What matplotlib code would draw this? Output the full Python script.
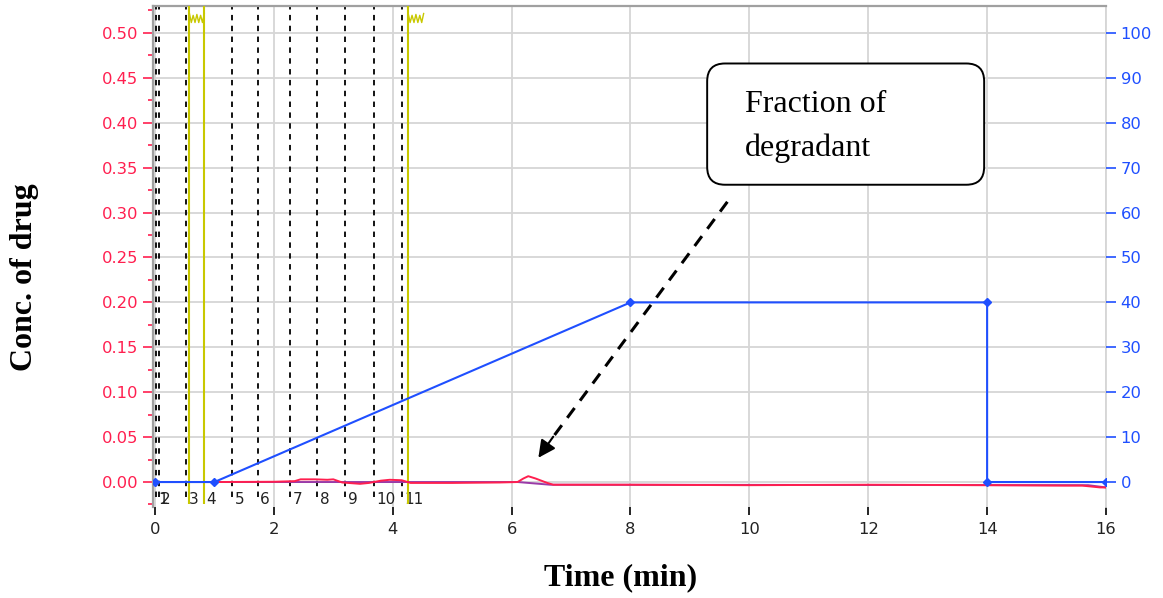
import matplotlib
matplotlib.use('Agg')
import matplotlib.pyplot as plt
import matplotlib.patches as mpatches
import matplotlib.transforms as mtransforms
import numpy as np

# detector trace, conc. of drug vs time (min)
trace_time = [0, 1.0, 2.0, 2.35, 2.45, 2.7, 2.9, 3.0, 3.15, 3.45, 3.6, 3.8, 3.95, 4.15, 4.3,
              5.0, 5.8, 6.1, 6.2, 6.28, 6.4, 6.5, 6.6, 6.7, 8, 10, 12, 14, 15.3, 15.6, 15.9, 16]
trace_conc = [0, 0, 0.0003, 0.001, 0.003, 0.003, 0.0025, 0.003, -0.0005, -0.002, -0.001, 0.0015,
              0.0025, 0.002, -0.001, -0.001, -0.0005, 0.0, 0.004, 0.0065, 0.004, 0.0015, -0.001,
              -0.003, -0.003, -0.0035, -0.003, -0.0035, -0.004, -0.004, -0.006, -0.006]

# integration baseline
base_time = [0, 6.1, 6.65, 15.7, 16]
base_conc = [0, 0, -0.003, -0.0035, -0.006]

# gradient program, %B on the right axis
grad_time = [0, 1, 8, 14, 14, 16]
grad_pct = [0, 0, 40, 40, 0, 0]

# fraction collector marks and their numbers
frac_time = [0.02, 0.06, 0.52, 0.82, 1.30, 1.73, 2.27, 2.73, 3.20, 3.68, 4.15]
frac_labels = ['1', '2', '3', '4', '5', '6', '7', '8', '9', '10', '11']

# integration events
event_time = [0.58, 0.83, 4.26]

RED = '#ff1f4f'
BLUE = '#1f4fff'
YELLOW = '#c8c800'
GRID = '#d6d6d6'

fig = plt.figure(figsize=(11.63, 5.98), dpi=100)
ax = fig.add_axes([152.6 / 1163, 91 / 598, (1106 - 152.6) / 1163, 501 / 598])
ax.set_xlim(-0.04, 16.0)
ylo, yhi = -0.0278, 0.530
ax.set_ylim(ylo, yhi)

ax.set_xticks(np.arange(0, 17, 2))
ax.set_yticks(np.arange(0, 0.51, 0.05))
ax.set_yticks(np.arange(-0.025, 0.53, 0.05), minor=True)
ax.set_yticklabels(['%.2f' % v for v in np.arange(0, 0.51, 0.05)])
ax.grid(True, which='major', color=GRID, lw=1.3)
ax.set_axisbelow(True)

ax.tick_params(axis='y', which='major', colors=RED, length=7, width=1.2, pad=3.5, labelsize=11.8)
ax.tick_params(axis='y', which='minor', colors=RED, length=3.5, width=1.2)
ax.tick_params(axis='x', colors='black', length=6, width=1.2, pad=5, labelsize=11.8,
               labelcolor='#222222')

ax.spines['bottom'].set_visible(False)
ax.spines['right'].set_color(GRID)
ax.spines['right'].set_linewidth(1.3)
ax.spines['left'].set_color('#a0a0a0')
ax.spines['left'].set_linewidth(1.6)
ax.spines['top'].set_color('#a0a0a0')
ax.spines['top'].set_linewidth(1.6)

# fraction marks
ax.vlines(frac_time, -0.017, yhi, colors='black', linestyles=(0, (3, 3)), lw=1.3, zorder=2)
trans = mtransforms.offset_copy(ax.transData, fig=fig, x=2.5, y=0, units='dots')
for t, lab in zip(frac_time, frac_labels):
    ax.text(t, -0.020, lab, transform=trans, fontsize=11, color='#222222',
            ha='left', va='center', zorder=3)

# integration events with their wavy flags at the top
ax.vlines(event_time, -0.024, yhi, colors=YELLOW, lw=1.5, zorder=3)
flag = [0, 1, 0.2, 1, 0.1, 1, 0.2, 1, 0]
blend = mtransforms.blended_transform_factory(ax.transData, ax.transAxes)
xa = np.linspace(event_time[0], event_time[1], len(flag))
ax.plot(xa, 0.985 - 0.018 * np.array(flag), color=YELLOW, lw=1.0, transform=blend, zorder=3)
xb = np.linspace(event_time[2], event_time[2] + 0.26, len(flag))
ax.plot(xb, 0.985 - 0.018 * np.array(flag), color=YELLOW, lw=1.0, transform=blend, zorder=3)

# baseline and trace
ax.plot(base_time, base_conc, color='#9a3aa8', lw=1.4, zorder=4)
ax.plot(trace_time, trace_conc, color=RED, lw=1.4, zorder=5)

# gradient on secondary axis
ax2 = ax.twinx()
ax2.set_ylim(ylo * 200, yhi * 200)
ax2.set_yticks(np.arange(0, 101, 10))
ax2.tick_params(axis='y', colors=BLUE, length=7, width=1.2, pad=3.5, labelsize=11.8)
for side in ['top', 'bottom', 'left', 'right']:
    ax2.spines[side].set_visible(False)
ax2.plot(grad_time, grad_pct, color=BLUE, lw=1.5, marker='D', ms=4, zorder=6)

# callout box
box = mpatches.FancyBboxPatch((9.29, 0.331), 4.66, 0.135,
                              boxstyle='round,pad=0,rounding_size=0.30',
                              mutation_aspect=0.0663, transform=ax.transData,
                              facecolor='white', edgecolor='black', lw=1.4, zorder=10,
                              clip_on=False)
ax2.add_patch(box)
ax2.text(9.93, 0.42, 'Fraction of', transform=ax.transData, fontsize=23,
         family='Liberation Serif', ha='left', va='center', zorder=11)
ax2.text(9.93, 0.372, 'degradant', transform=ax.transData, fontsize=23,
         family='Liberation Serif', ha='left', va='center', zorder=11)

# dashed pointer with a solid head
ax2.plot([9.63, 6.66], [0.312, 0.0468], transform=ax.transData, color='black',
         lw=2.2, linestyle=(0, (4, 3)), zorder=11)
ax2.annotate('', xy=(6.45, 0.027), xytext=(6.70, 0.0505),
             xycoords=ax.transData, textcoords=ax.transData,
             arrowprops=dict(arrowstyle='-|>', lw=1.5, color='black',
                             mutation_scale=26, shrinkA=0, shrinkB=0),
             zorder=11)

fig.text(25 / 1163, 1 - 277 / 598, 'Conc. of drug', rotation=90, fontsize=23,
         fontweight='bold', family='Liberation Serif', ha='center', va='center')
fig.text(621 / 1163, 1 - 578 / 598, 'Time (min)', fontsize=23,
         fontweight='bold', family='Liberation Serif', ha='center', va='center')

fig.savefig('out.png', dpi=100, facecolor='white')
